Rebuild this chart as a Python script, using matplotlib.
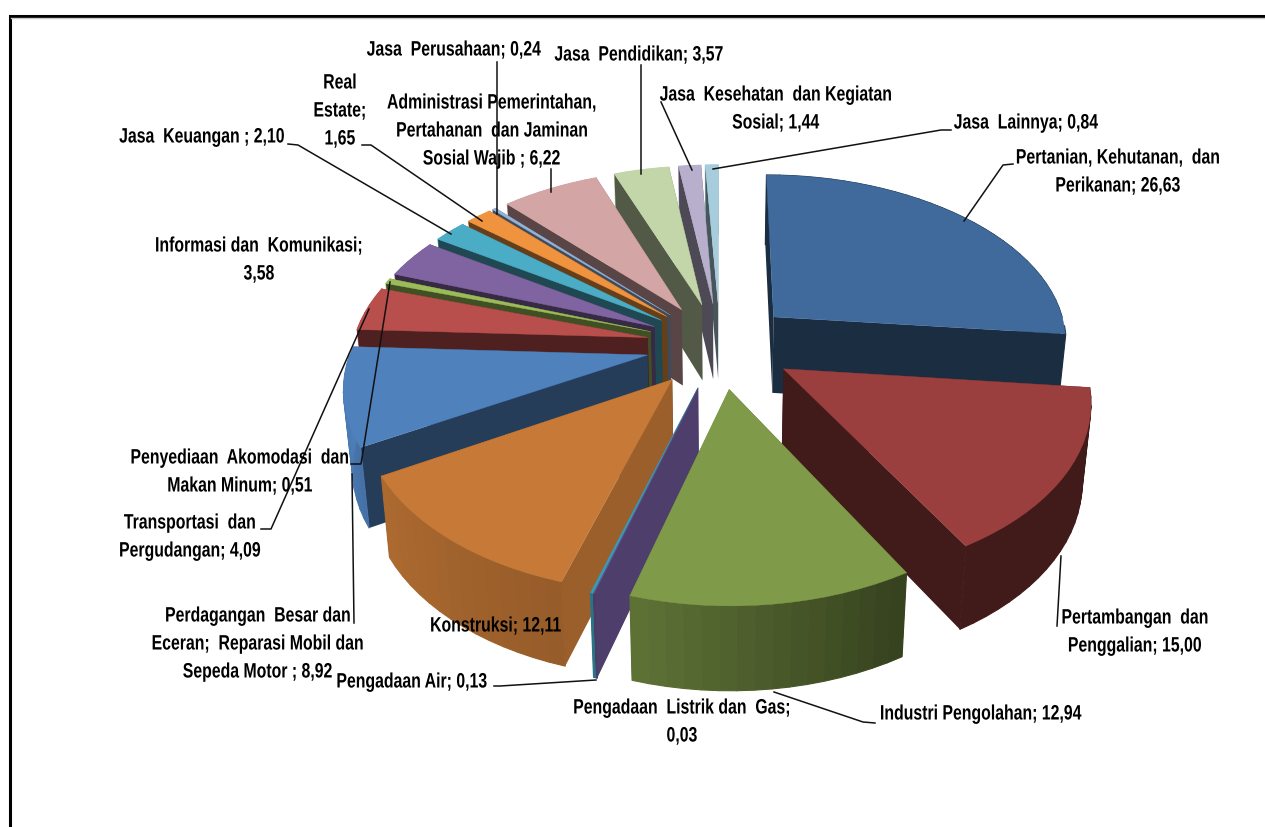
import numpy as np
import matplotlib
matplotlib.use("Agg")
import matplotlib.pyplot as plt
from matplotlib.collections import PolyCollection
from matplotlib.patches import Polygon
from matplotlib.patheffects import AbstractPathEffect
from matplotlib.transforms import Affine2D

plt.rcParams["font.family"] = ["Liberation Sans", "DejaVu Sans"]

# ---- data ----
sectors = ["Pertanian, Kehutanan,  dan\nPerikanan", "Pertambangan  dan\nPenggalian",
           "Industri Pengolahan", "Pengadaan  Listrik dan  Gas;\n", "Pengadaan Air",
           "Konstruksi", "Perdagangan  Besar dan\nEceran;  Reparasi Mobil dan\nSepeda Motor ",
           "Transportasi  dan\nPergudangan", "Penyediaan  Akomodasi  dan\nMakan Minum",
           "Informasi dan  Komunikasi;\n", "Jasa  Keuangan ", "Real\nEstate;\n",
           "Jasa  Perusahaan", "Administrasi Pemerintahan,\nPertahanan  dan Jaminan\nSosial Wajib ",
           "Jasa  Pendidikan", "Jasa  Kesehatan  dan Kegiatan\nSosial", "Jasa  Lainnya"]
shares = [26.63, 15.00, 12.94, 0.03, 0.13, 12.11, 8.92, 4.09, 0.51, 3.58,
          2.10, 1.65, 0.24, 6.22, 3.57, 1.44, 0.84]
colors = ["#3F6A9B", "#9A3F3D", "#7F9A48", "#65508A", "#3B9AB3", "#C77A37", "#4F81BD", "#B94F4C",
          "#9BBB59", "#8064A2", "#4BACC6", "#F0933F", "#95B3D7", "#D4A5A5", "#C3D6A9", "#B7AFCC", "#A7CCDB"]

# label centre (x, y of the middle of the block), in figure pixels
label_pos = [(1118, 173), (1135, 633), (981, 715), (682, 723), (412, 683), (496, 627), (258, 645),
             (190, 538), (240, 473), (259, 261), (202, 138), (340, 112), (454, 51), (492, 132),
             (639, 56), (776, 110), (1026, 124)]
leaders = [[(1013, 165), (1003, 166), (964, 222)], [(1061, 557), (1057, 627)],
           [(774, 693), (863, 723), (875, 724)], None, [(494, 687), (500, 687), (596, 681)], None,
           [(354, 624), (352, 475)], [(261, 530), (271, 530), (369, 310)],
           [(351, 465), (361, 465), (390, 283)], None, [(288, 145), (298, 146), (451, 235)],
           [(362, 146), (371, 146), (482, 222)], [(497, 63), (497, 215)], [(551, 170), (551, 193)],
           [(641, 66), (641, 175)], [(661, 103), (692, 171)], [(951, 131), (941, 131), (713, 170)]]

# ---- pie geometry ----
CX, CY = 720, 346
RX = 295
PERSP_FRONT, PERSP_BACK = 0.17, 0.13
RY = (172, 26, 2.93)     # warp of the depth axis, fakes the 3d camera
EXPLODE = 0.25
DEPTH, DEPTH_GROW = 77, 0.082
BASE_SHRINK = 0.976
TEXT_SQUEEZE = 0.76


class SqueezeX(AbstractPathEffect):
    """Narrow the glyphs around a fixed x, there is no narrow font to use here."""

    def __init__(self, sx, cx):
        self.sx, self.cx = sx, cx

    def draw_path(self, renderer, gc, tpath, affine, rgbFace=None):
        t = affine + Affine2D().translate(-self.cx, 0).scale(self.sx, 1).translate(self.cx, 0)
        renderer.draw_path(gc, tpath, t, rgbFace)


def project(a, r, offset, bottom=False):
    """Screen x, y of the point at angle a (deg, clockwise from 12) and radius r."""
    a = np.radians(a)
    X = r * np.sin(a) + offset[0]
    Y = -r * np.cos(a) + offset[1]
    x = RX * X * (1 + np.where(Y > 0, PERSP_FRONT, PERSP_BACK) * Y)
    y = CY + RY[0] * Y + RY[1] * Y ** 2 + RY[2] * Y ** 3
    if bottom:
        x = x * BASE_SHRINK
        y = y + DEPTH * (1 + DEPTH_GROW * Y)
    return np.column_stack([CX + x, y])


def shade(color, f):
    return tuple(min(1, c * f) for c in matplotlib.colors.to_rgb(color))


def wall_factor(a):
    return np.interp(a, [0, 150, 197, 215, 240, 272, 360], [.42, .42, .78, .78, .47, .42, .42])


def rim_factor(a):
    return np.interp(a, [0, 150, 197, 240, 272, 360], [.42, .42, .75, .87, 1, 1])


def add_rim(ax, arc, off, color, z):
    """Outer wall in strips so the shading can run along the arc."""
    if len(arc) < 2:
        return
    top = project(arc, 1, off)
    base = project(arc, 1, off, bottom=True)
    strips = [np.vstack([top[j], top[j + 1], base[j + 1], base[j]]) for j in range(len(arc) - 1)]
    cols = [shade(color, rim_factor((arc[j] + arc[j + 1]) / 2)) for j in range(len(arc) - 1)]
    ax.add_collection(PolyCollection(strips, facecolors=cols, edgecolors=cols, linewidths=.8, zorder=z))


fig = plt.figure(figsize=(12.65, 8.28), dpi=100)
ax = fig.add_axes([0, 0, 1, 1])
ax.set_xlim(0, 1265)
ax.set_ylim(828, 0)
ax.axis("off")

# chart frame, open on the right and at the bottom
ax.plot([9.5, 9.5, 1265], [828, 16.5, 16.5], color="black", lw=2.2, solid_joinstyle="miter", zorder=1)
ax.plot([11, 1265], [19, 19], color="#C8C8C8", lw=1, zorder=1)

edges = np.concatenate([[0], np.cumsum(shares)]) * 360 / sum(shares)
mids = (edges[:-1] + edges[1:]) / 2

z = 2
for i in sorted(range(len(shares)), key=lambda k: -np.cos(np.radians(mids[k]))):
    a0, a1 = edges[i], edges[i + 1]
    off = (EXPLODE * np.sin(np.radians(mids[i])), -EXPLODE * np.cos(np.radians(mids[i])))
    arc = np.linspace(a0, a1, max(3, int((a1 - a0) / 3) + 2))
    apex_t = project(0, 0, off)
    apex_b = project(0, 0, off, bottom=True)
    facing = np.cos(np.radians(arc)) < 0
    # back part of the rim, then the radial cuts, then the front part of the rim
    add_rim(ax, arc[~facing], off, colors[i], z)
    for a in sorted((a0, a1), key=lambda v: project(v, 1, off)[0, 1]):
        quad = np.vstack([apex_t, project(a, 1, off), project(a, 1, off, True), apex_b])
        ax.add_patch(Polygon(quad, fc=shade(colors[i], wall_factor(a)), ec="none", zorder=z))
    add_rim(ax, arc[facing], off, colors[i], z)
    top = project(arc, 1, off)
    ax.add_patch(Polygon(np.vstack([apex_t, top]), fc=colors[i], ec=colors[i], lw=.3, zorder=z))
    z += 1

for line in leaders:
    if line:
        xs, ys = zip(*line)
        ax.plot(xs, ys, color="#111111", lw=1.1, zorder=50)

for name, val, pos in zip(sectors, shares, label_pos):
    txt = "%s; %s" % (name, ("%.2f" % val).replace(".", ","))
    txt = txt.replace(";\n; ", ";\n")
    ax.text(pos[0], pos[1], txt, ha="center", va="center", fontsize=15, fontweight="bold",
            color="black", linespacing=1.6, zorder=60,
            path_effects=[SqueezeX(TEXT_SQUEEZE, pos[0])])

fig.savefig("out.png", dpi=100)
